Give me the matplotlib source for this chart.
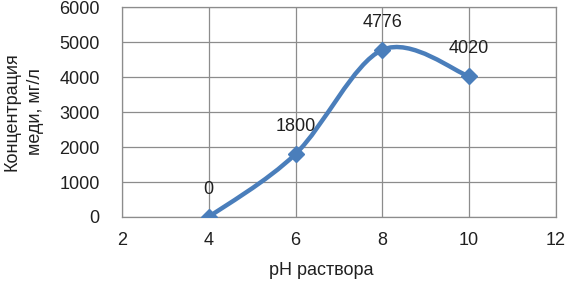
import matplotlib
matplotlib.use("Agg")
import matplotlib.pyplot as plt
from matplotlib.path import Path
from matplotlib.patches import PathPatch

# data
ph = [4, 6, 8, 10]
copper = [0, 1800, 4776, 4020]
point_labels = ["0", "1800", "4776", "4020"]

line_color = "#4A7EBB"
grid_color = "#8C8C8C"

plt.rcParams['font.family'] = ['Liberation Sans', 'DejaVu Sans']

fig = plt.figure(figsize=(5.66, 2.82), dpi=100)
ax = fig.add_axes([0.2155, 0.2305, 0.7665, 0.7445])

# smoothed line (Excel-style, bezier control points from neighbours)
pts = list(zip(ph, copper))
verts = [pts[0]]
codes = [Path.MOVETO]
for i in range(len(pts) - 1):
    p0 = pts[i - 1] if i > 0 else pts[i]
    p1 = pts[i]
    p2 = pts[i + 1]
    p3 = pts[i + 2] if i + 2 < len(pts) else pts[i + 1]
    c1 = (p1[0] + (p2[0] - p0[0]) / 6, p1[1] + (p2[1] - p0[1]) / 6)
    c2 = (p2[0] - (p3[0] - p1[0]) / 6, p2[1] - (p3[1] - p1[1]) / 6)
    verts += [c1, c2, p2]
    codes += [Path.CURVE4] * 3
ax.add_patch(PathPatch(Path(verts, codes), fill=False, edgecolor=line_color,
                       linewidth=3.2, capstyle="round", joinstyle="round", zorder=3))
ax.plot(ph, copper, linestyle="none", marker="D", markersize=8,
        color=line_color, zorder=4)

for x, y, t in zip(ph, copper, point_labels):
    ax.annotate(t, (x, y), xytext=(0, 20), textcoords="offset points",
                ha="center", va="center", fontsize=13, color="#202020")

ax.set_xlim(2, 12)
ax.set_ylim(0, 6000)
ax.set_xticks(range(2, 13, 2))
ax.set_yticks(range(0, 6001, 1000))
ax.grid(True, color=grid_color, linewidth=0.9)
ax.set_axisbelow(True)
for s in ax.spines.values():
    s.set_color(grid_color)
    s.set_linewidth(0.9)
ax.tick_params(length=0, labelsize=13, colors="#202020")
ax.tick_params(axis="x", pad=11)
ax.tick_params(axis="y", pad=16)

ax.set_xlabel("pH раствора", fontsize=13, color="#202020")
ax.xaxis.set_label_coords(0.46, -0.215)
ax.set_ylabel("Концентрация\nмеди, мг/л", fontsize=13, color="#202020",
              linespacing=1.5)
ax.yaxis.set_label_coords(-0.18, 0.5)

fig.savefig("out.png", dpi=100)
